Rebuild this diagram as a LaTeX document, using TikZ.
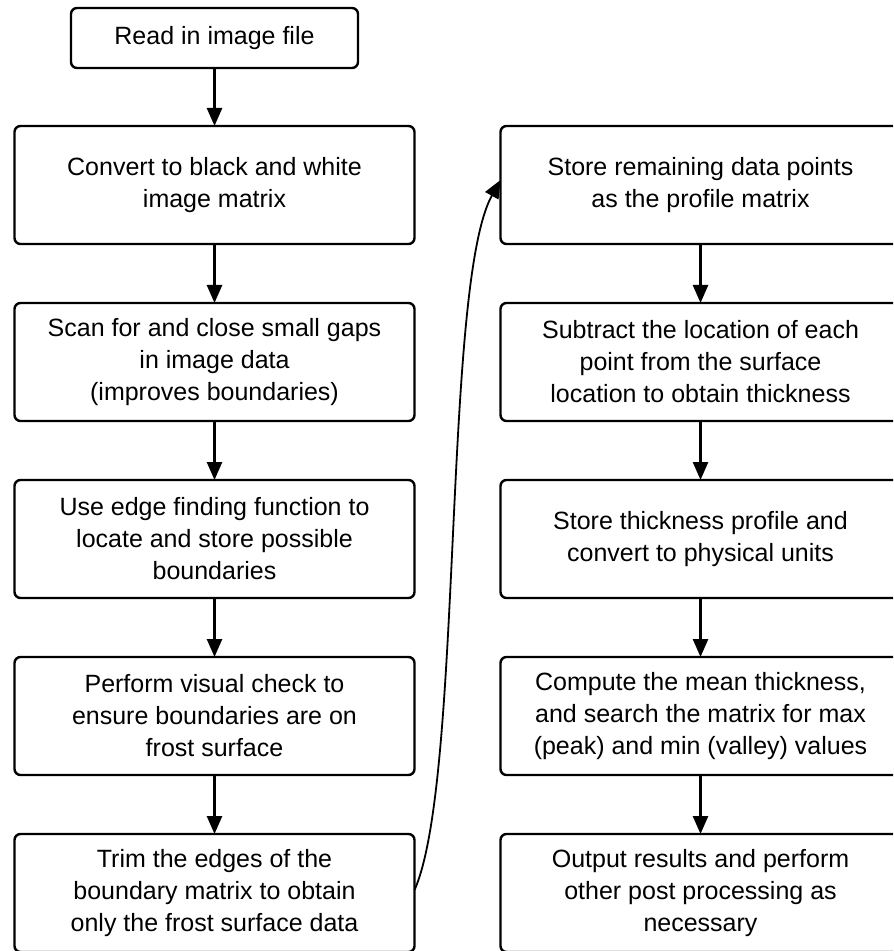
\documentclass[tikz,border=0pt]{standalone}
\usepackage{fontspec}
\setmainfont{Liberation Sans}
\usetikzlibrary{positioning,arrows.meta}

\begin{document}
\begin{tikzpicture}[x=0.5pt,y=-0.5pt,
  node distance=29.5pt and 43pt,
  every node/.style={rectangle,draw,line width=1.2pt,rounded corners=3pt,
    align=center,inner sep=0pt,outer sep=0pt,minimum width=200pt,minimum height=59pt,
    font=\fontsize{12.5}{16}\selectfont},
  flow/.style={-{Triangle[length=9pt,width=7.5pt]},line width=1.3pt}]
  \clip (0,0) rectangle (893,951);
  % left column
  \node[minimum width=143.5pt,minimum height=30pt] (read) at (214.5,38) {Read in image file};
  \node[below=29pt of read] (convert) {Convert to black and white\\image matrix};
  \node[below=of convert] (scan) {Scan for and close small gaps\\in image data\\(improves boundaries)};
  \node[below=of scan] (edge) {Use edge finding function to\\locate and store possible\\boundaries};
  \node[below=of edge] (check) {Perform visual check to\\ensure boundaries are on\\frost surface};
  \node[below=of check] (trim) {Trim the edges of the\\boundary matrix to obtain\\only the frost surface data};
  % right column
  \node[right=of convert] (store) {Store remaining data points\\as the profile matrix};
  \node[below=of store] (subtract) {Subtract the location of each\\point from the surface\\location to obtain thickness};
  \node[below=of subtract] (units) {Store thickness profile and\\convert to physical units};
  \node[below=of units] (mean) {Compute the mean thickness,\\and search the matrix for max\\(peak) and min (valley) values};
  \node[below=of mean] (output) {Output results and perform\\other post processing as\\necessary};
  % connectors
  \draw[flow] (read) -- (convert);
  \draw[flow] (convert) -- (scan);
  \draw[flow] (scan) -- (edge);
  \draw[flow] (edge) -- (check);
  \draw[flow] (check) -- (trim);
  \draw[flow,line width=0.9pt] ([yshift=1.5pt]trim.east) .. controls +(66:60pt) and +(-119:60pt) .. ([yshift=2.5pt]store.west);
  \draw[flow] (store) -- (subtract);
  \draw[flow] (subtract) -- (units);
  \draw[flow] (units) -- (mean);
  \draw[flow] (mean) -- (output);
\end{tikzpicture}
\end{document}
